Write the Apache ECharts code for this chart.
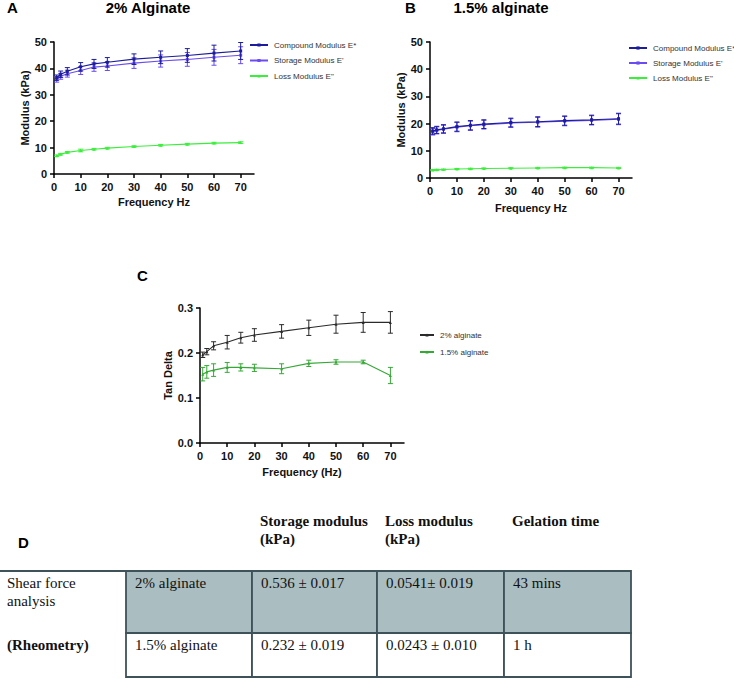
<!DOCTYPE html>
<html>
<head>
<meta charset="utf-8">
<script src="https://cdn.jsdelivr.net/npm/echarts@6/dist/echarts.min.js"></script>
<style>
html,body{margin:0;padding:0;background:#fff;}
#chart{width:734px;height:679px;}
</style>
</head>
<body>
<div id="chart"></div>
<script>
// ---------- DATA ----------
const freq = [1, 2.5, 5, 10, 15, 20, 30, 40, 50, 60, 70];
const xTicks = [0, 10, 20, 30, 40, 50, 60, 70];

// Panel A: 2% alginate (kPa)
const a2Compound    = [36.5, 37.8, 38.9, 40.6, 41.7, 42.3, 43.5, 44.2, 44.9, 45.8, 46.6];
const a2CompoundErr = [1.0, 1.2, 1.4, 1.6, 1.7, 1.8, 2.0, 2.4, 2.6, 3.0, 3.2];
const a2Storage     = [35.8, 37.0, 38.0, 39.2, 40.5, 40.9, 42.0, 42.8, 43.4, 44.2, 45.0];
const a2StorageErr  = [1.0, 1.1, 1.3, 1.5, 1.6, 1.7, 2.0, 2.3, 2.6, 3.0, 3.2];
const a2Loss        = [6.9, 7.5, 8.2, 8.9, 9.4, 9.8, 10.4, 10.9, 11.3, 11.7, 11.9];
const a2LossErr     = [0.3, 0.3, 0.3, 0.5, 0.3, 0.3, 0.3, 0.3, 0.3, 0.3, 0.3];

// Panel B: 1.5% alginate (kPa)
const b15Compound    = [17.3, 17.7, 18.1, 18.9, 19.4, 19.8, 20.4, 20.7, 21.1, 21.4, 21.8];
const b15CompoundErr = [1.2, 1.3, 1.5, 1.7, 1.7, 1.6, 1.6, 1.8, 1.7, 1.7, 2.0];
const b15Storage     = [17.0, 17.5, 17.9, 18.7, 19.2, 19.6, 20.2, 20.5, 20.9, 21.2, 21.6];
const b15StorageErr  = [1.2, 1.3, 1.5, 1.7, 1.7, 1.6, 1.6, 1.8, 1.7, 1.7, 2.0];
const b15Loss        = [2.9, 3.0, 3.1, 3.3, 3.4, 3.5, 3.6, 3.7, 3.8, 3.8, 3.7];
const b15LossErr     = [0.2, 0.2, 0.2, 0.2, 0.2, 0.2, 0.2, 0.2, 0.2, 0.2, 0.2];

// Panel C: tan delta
const tan2    = [0.196, 0.203, 0.216, 0.224, 0.234, 0.240, 0.248, 0.256, 0.264, 0.268, 0.268];
const tan2Err = [0.006, 0.007, 0.009, 0.015, 0.012, 0.014, 0.015, 0.017, 0.020, 0.022, 0.024];
const tan15    = [0.153, 0.158, 0.162, 0.168, 0.168, 0.167, 0.165, 0.177, 0.180, 0.180, 0.150];
const tan15Err = [0.015, 0.014, 0.014, 0.011, 0.008, 0.008, 0.011, 0.007, 0.005, 0.004, 0.018];

// Panel D: table
const tableHeaders   = ['Storage modulus\n(kPa)', 'Loss modulus\n(kPa)', 'Gelation time'];
const tableRowLabels = ['Shear force\nanalysis', '(Rheometry)'];
const tableGroups    = ['2% alginate', '1.5% alginate'];
const tableStorage   = ['0.536 ± 0.017', '0.232 ± 0.019'];
const tableLoss      = ['0.0541± 0.019', '0.0243 ± 0.010'];
const tableGelation  = ['43 mins', '1 h'];

// ---------- STYLE ----------
const SANS = 'Liberation Sans, Arial, sans-serif';
const SERIF = 'Liberation Serif, Times New Roman, serif';
const cCompound = '#1c1c9c';
const cStorage = '#6a4cf2';
const cLoss = '#3bee3b';
const c2 = '#2b2b2b';
const c15 = '#36a836';

const chart = echarts.init(document.getElementById('chart'), null, {renderer: 'svg'});

function pts(ys) { return freq.map((f, i) => [f, ys[i]]); }
function errPts(ys, es) { return freq.map((f, i) => [f, ys[i] - es[i], ys[i] + es[i]]); }

function lineSeries(name, ys, color, symbol, gi, z) {
  return {
    type: 'line', name: name, data: pts(ys), xAxisIndex: gi, yAxisIndex: gi,
    symbol: symbol, symbolSize: 3, showSymbol: true,
    lineStyle: {color: color, width: 1.1}, itemStyle: {color: color},
    emphasis: {disabled: true}, animation: false, z: z
  };
}
function errSeries(ys, es, color, gi, z) {
  return {
    type: 'custom', xAxisIndex: gi, yAxisIndex: gi, data: errPts(ys, es),
    encode: {x: 0, y: [1, 2]}, animation: false, silent: true, z: z,
    renderItem: function (params, api) {
      const x = api.value(0);
      const p1 = api.coord([x, api.value(1)]);
      const p2 = api.coord([x, api.value(2)]);
      const w = 2.5;
      const st = {stroke: color, lineWidth: 1};
      return {type: 'group', children: [
        {type: 'line', shape: {x1: p1[0], y1: p1[1], x2: p2[0], y2: p2[1]}, style: st},
        {type: 'line', shape: {x1: p1[0] - w, y1: p1[1], x2: p1[0] + w, y2: p1[1]}, style: st},
        {type: 'line', shape: {x1: p2[0] - w, y1: p2[1], x2: p2[0] + w, y2: p2[1]}, style: st}
      ]};
    }
  };
}

function xAxis(gi, name, gap) {
  return {
    type: 'value', gridIndex: gi, min: 0, max: 75, interval: 10,
    name: name, nameLocation: 'middle', nameGap: gap,
    nameTextStyle: {fontFamily: SANS, fontWeight: 'bold', fontSize: 11, color: '#111'},
    axisLine: {show: true, lineStyle: {color: '#000', width: 1.5}},
    axisTick: {show: true, length: 4, lineStyle: {color: '#000', width: 1.5}, customValues: xTicks},
    axisLabel: {fontFamily: SANS, fontWeight: 'bold', fontSize: 11, color: '#111', margin: 7, customValues: xTicks},
    splitLine: {show: false}
  };
}
function yAxis(gi, name, gap, max, interval, fmt) {
  return {
    type: 'value', gridIndex: gi, min: 0, max: max, interval: interval,
    name: name, nameLocation: 'middle', nameGap: gap,
    nameTextStyle: {fontFamily: SANS, fontWeight: 'bold', fontSize: 11, color: '#111'},
    axisLine: {show: true, lineStyle: {color: '#000', width: 1.5}},
    axisTick: {show: true, length: 4, lineStyle: {color: '#000', width: 1.5}},
    axisLabel: {fontFamily: SANS, fontWeight: 'bold', fontSize: 11, color: '#111', margin: 7, formatter: fmt},
    splitLine: {show: false}
  };
}
function legend(left, top, names, itemWidth, gap) {
  return {
    orient: 'vertical', left: left, top: top, data: names, padding: 0,
    itemWidth: itemWidth, itemHeight: 4, itemGap: gap, selectedMode: false,
    textStyle: {fontFamily: SANS, fontSize: 8, color: '#333', lineHeight: 10, padding: [0, 0, 0, 1]}
  };
}
function titleText(text, left, top, align) {
  return {text: text, left: left, top: top, textAlign: align || 'left', padding: 0,
    textStyle: {fontFamily: SANS, fontWeight: 'bold', fontSize: 15, color: '#000'}};
}

// ---------- TABLE GRAPHIC ----------
const colX = [126, 252, 377, 504, 631];
const rowY = [571, 633, 677];
const border = '#3e525a';
const shade = '#aabdc0';
const tableEls = [];
const rowCells = [tableGroups, tableStorage, tableLoss, tableGelation];
for (let r = 0; r < 2; r++) {
  for (let c = 0; c < 4; c++) {
    tableEls.push({type: 'rect', shape: {x: colX[c], y: rowY[r], width: colX[c + 1] - colX[c], height: rowY[r + 1] - rowY[r]},
      style: {fill: r === 0 ? shade : '#fff', stroke: border, lineWidth: 1.8}});
    tableEls.push({type: 'text', x: colX[c] + 9, y: rowY[r] + 4,
      style: {text: rowCells[c][r], font: '15px ' + SERIF, fill: '#111', textVerticalAlign: 'top'}});
  }
}
tableEls.push({type: 'line', shape: {x1: 0, y1: rowY[0], x2: colX[0], y2: rowY[0]}, style: {stroke: border, lineWidth: 1.8}});
tableEls.push({type: 'text', x: 7, y: rowY[0] + 3,
  style: {text: tableRowLabels[0], font: '15px ' + SERIF, fill: '#111', lineHeight: 18, textVerticalAlign: 'top'}});
tableEls.push({type: 'text', x: 7, y: rowY[1] + 4,
  style: {text: tableRowLabels[1], font: 'bold 15px ' + SERIF, fill: '#111', textVerticalAlign: 'top'}});
for (let c = 0; c < 3; c++) {
  tableEls.push({type: 'text', x: colX[c + 1] + 8, y: 512,
    style: {text: tableHeaders[c], font: 'bold 15px ' + SERIF, fill: '#111', lineHeight: 18, textVerticalAlign: 'top'}});
}

const option = {
  backgroundColor: '#fff',
  animation: false,
  title: [
    titleText('A', 7, 0),
    titleText('2% Alginate', 148, 0, 'center'),
    titleText('B', 405, 0),
    titleText('1.5% alginate', 501, 0, 'center'),
    titleText('C', 137, 268),
    titleText('D', 18, 535)
  ],
  grid: [
    {left: 54, top: 42, width: 200, height: 132},
    {left: 430, top: 42, width: 202, height: 136},
    {left: 200, top: 308, width: 204, height: 135}
  ],
  xAxis: [xAxis(0, 'Frequency Hz', 22), xAxis(1, 'Frequency Hz', 24), xAxis(2, 'Frequency (Hz)', 23)],
  yAxis: [
    yAxis(0, 'Modulus (kPa)', 21, 50, 10),
    yAxis(1, 'Modulus (kPa)', 23, 50, 10),
    yAxis(2, 'Tan Delta', 27, 0.3, 0.1, v => v.toFixed(1))
  ],
  legend: [
    legend(249, 40, ['Compound Modulus E*', 'Storage Modulus E\'', 'Loss Modulus E"'], 18, 5.5),
    legend(628, 43, ['Compound Modulus E*', 'Storage Modulus E\'', 'Loss Modulus E"'], 18, 5),
    legend(419, 330, ['2% alginate', '1.5% alginate'], 14, 7)
  ],
  series: [
    errSeries(a2Compound, a2CompoundErr, cCompound, 0, 4),
    errSeries(a2Storage, a2StorageErr, cStorage, 0, 2),
    errSeries(a2Loss, a2LossErr, cLoss, 0, 2),
    lineSeries('Compound Modulus E*', a2Compound, cCompound, 'rect', 0, 5),
    lineSeries('Storage Modulus E\'', a2Storage, cStorage, 'rect', 0, 3),
    lineSeries('Loss Modulus E"', a2Loss, cLoss, 'triangle', 0, 3),
    errSeries(b15Compound, b15CompoundErr, cCompound, 1, 4),
    errSeries(b15Storage, b15StorageErr, cStorage, 1, 2),
    errSeries(b15Loss, b15LossErr, cLoss, 1, 2),
    lineSeries('Compound Modulus E*', b15Compound, cCompound, 'rect', 1, 5),
    lineSeries('Storage Modulus E\'', b15Storage, cStorage, 'rect', 1, 3),
    lineSeries('Loss Modulus E"', b15Loss, cLoss, 'triangle', 1, 3),
    errSeries(tan2, tan2Err, c2, 2, 2),
    errSeries(tan15, tan15Err, c15, 2, 2),
    lineSeries('2% alginate', tan2, c2, 'triangle', 2, 3),
    lineSeries('1.5% alginate', tan15, c15, 'triangle', 2, 3)
  ],
  graphic: tableEls
};
chart.setOption(option);
</script>
</body>
</html>
